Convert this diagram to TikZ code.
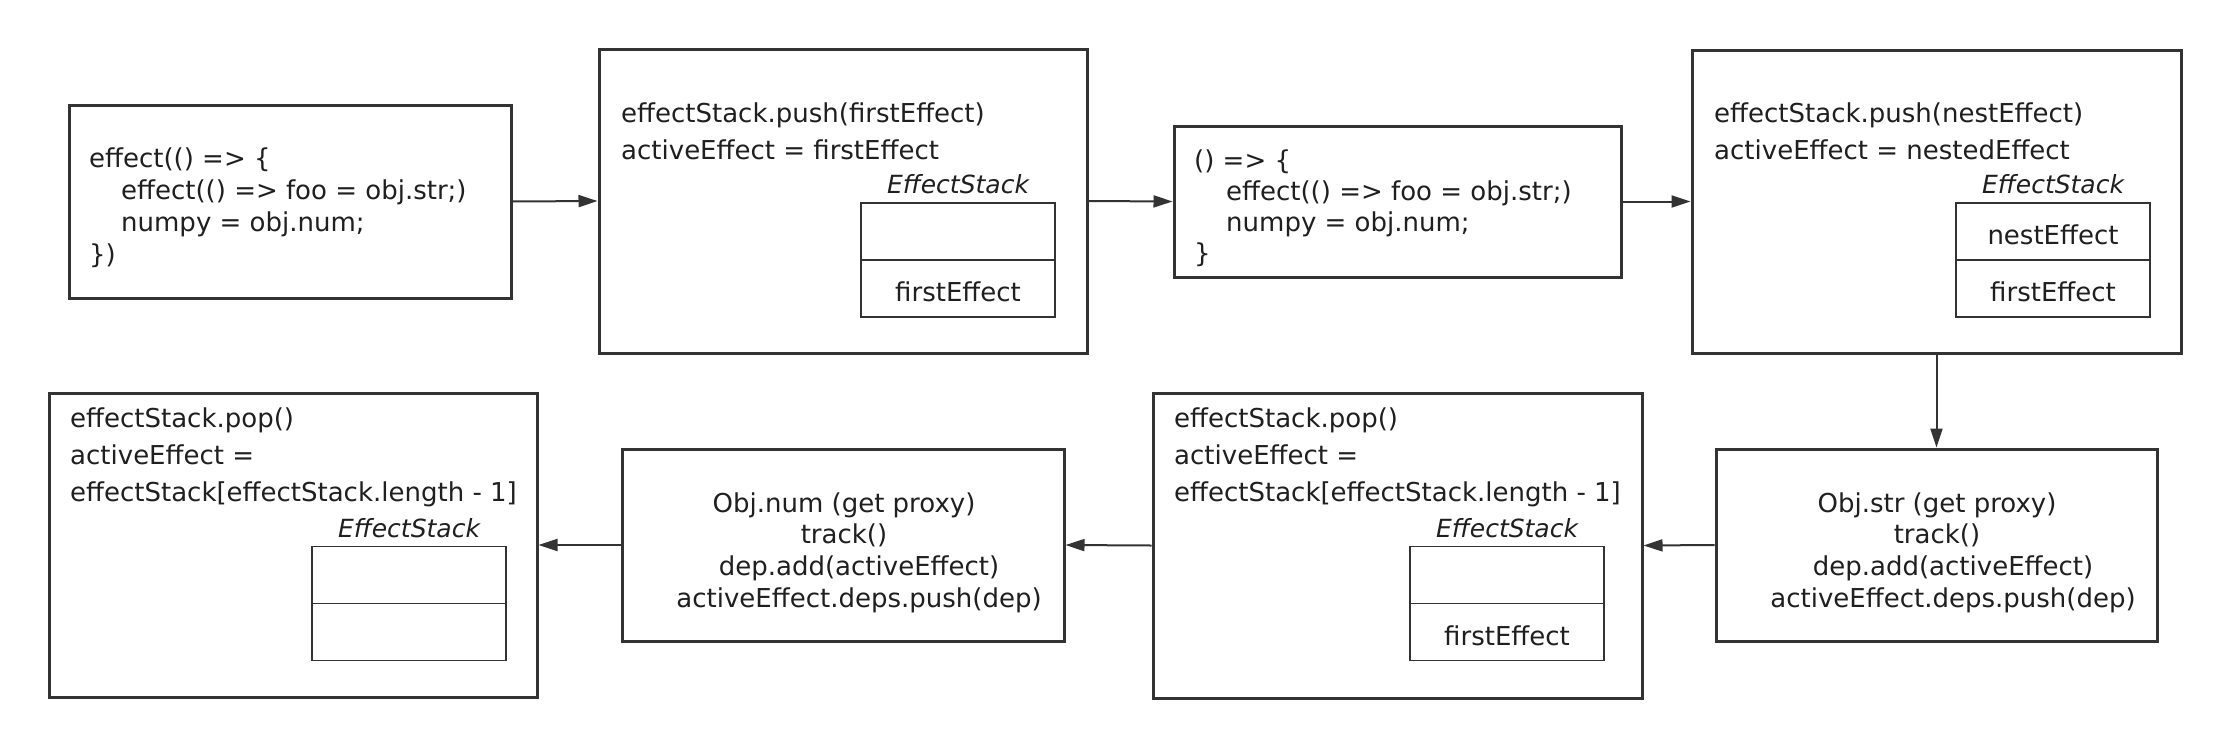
\documentclass[tikz,border=0pt]{standalone}
\usepackage{fontspec}
\setmainfont{DejaVu Sans}
\usetikzlibrary{arrows.meta}
\definecolor{ink}{HTML}{333333}
\begin{document}
\begin{tikzpicture}[x=1pt,y=-1pt,
  box/.style={draw=ink,line width=3pt,fill=white,rectangle,inner sep=0pt},
  cell/.style={draw=ink,line width=1.5pt,rectangle,inner sep=0pt,minimum width=194pt,minimum height=57pt},
  txt/.style={inner sep=0pt,text=black!88,font=\fontsize{26}{32}\selectfont},
  lbl/.style={inner sep=0pt,text=black!88,font=\fontsize{25}{30}\selectfont\itshape},
  conn/.style={draw=ink,line width=2pt,-{Triangle[length=19pt,width=12pt]}}]
\useasboundingbox (0,0) rectangle (2234,747);
% boxes
\node[box,minimum width=442pt,minimum height=193pt] (A) at (290,201.5) {};
\node[box,minimum width=488pt,minimum height=304pt] (B) at (843,201) {};
\node[box,minimum width=447pt,minimum height=151pt] (C) at (1397.5,201.5) {};
\node[box,minimum width=489pt,minimum height=303pt] (D) at (1936.5,201.5) {};
\node[box,minimum width=441pt,minimum height=192pt] (E) at (1936.5,545) {};
\node[box,minimum width=489pt,minimum height=305pt] (F) at (1397.5,545.5) {};
\node[box,minimum width=442pt,minimum height=192pt] (G) at (843,545) {};
\node[box,minimum width=488pt,minimum height=304pt] (H) at (293,545) {};
% connectors
\draw[conn] (A.east) -- (B.west);
\draw[conn] (B.east) -- (C.west);
\draw[conn] (C.east) -- (D.west);
\draw[conn] (D.south) -- (E.north);
\draw[conn] (E.west) -- (F.east);
\draw[conn] (F.west) -- (G.east);
\draw[conn] (G.west) -- (H.east);
% box A text
\node[txt,anchor=base west] (A1) at (89,167) {effect(() => \{};
\node[txt,anchor=base west] (A2) at (121,199) {effect(() => foo = obj.str;)};
\node[txt,anchor=base west] (A3) at (121,231) {numpy = obj.num;};
\node[txt,anchor=base west] (A4) at (89,263) {\})};
% box B
\node[txt,anchor=base west] (B1) at (621,122) {effectStack.push(firstEffect)};
\node[txt,anchor=base west] (B2) at (621,159) {activeEffect = firstEffect};
\node[lbl,anchor=base] (BL) at (958,193) {EffectStack};
\node[cell] (Bs1) at (958,231.5) {};
\node[cell] (Bs2) at (958,288.5) {};
\node[txt,anchor=base] (Bs2t) at (958,301) {firstEffect};
% box C
\node[txt,anchor=base west] (C1) at (1194,169) {() => \{};
\node[txt,anchor=base west] (C2) at (1226,200) {effect(() => foo = obj.str;)};
\node[txt,anchor=base west] (C3) at (1226,231) {numpy = obj.num;};
\node[txt,anchor=base west] (C4) at (1194,262) {\}};
% box D
\node[txt,anchor=base west] (D1) at (1714,122) {effectStack.push(nestEffect)};
\node[txt,anchor=base west] (D2) at (1714,159) {activeEffect = nestedEffect};
\node[lbl,anchor=base] (DL) at (2053,193) {EffectStack};
\node[cell] (Ds1) at (2053,231.5) {};
\node[cell] (Ds2) at (2053,288.5) {};
\node[txt,anchor=base] (Ds1t) at (2053,244) {nestEffect};
\node[txt,anchor=base] (Ds2t) at (2053,301) {firstEffect};
% box E
\node[txt,anchor=base] (E1) at (1937,512) {Obj.str (get proxy)};
\node[txt,anchor=base] (E2) at (1937,543) {track()};
\node[txt,anchor=base] (E3) at (1953,575) {dep.add(activeEffect)};
\node[txt,anchor=base] (E4) at (1953,607) {activeEffect.deps.push(dep)};
% box F
\node[txt,anchor=base west] (F1) at (1174,427) {effectStack.pop()};
\node[txt,anchor=base west] (F2) at (1174,464) {activeEffect =};
\node[txt,anchor=base west] (F3) at (1174,501) {effectStack[effectStack.length - 1]};
\node[lbl,anchor=base] (FL) at (1507,537) {EffectStack};
\node[cell] (Fs1) at (1507,575) {};
\node[cell] (Fs2) at (1507,632) {};
\node[txt,anchor=base] (Fs2t) at (1507,645) {firstEffect};
% box G
\node[txt,anchor=base] (G1) at (844,512) {Obj.num (get proxy)};
\node[txt,anchor=base] (G2) at (844,543) {track()};
\node[txt,anchor=base] (G3) at (859,575) {dep.add(activeEffect)};
\node[txt,anchor=base] (G4) at (859,607) {activeEffect.deps.push(dep)};
% box H
\node[txt,anchor=base west] (H1) at (70,427) {effectStack.pop()};
\node[txt,anchor=base west] (H2) at (70,464) {activeEffect =};
\node[txt,anchor=base west] (H3) at (70,501) {effectStack[effectStack.length - 1]};
\node[lbl,anchor=base] (HL) at (409,537) {EffectStack};
\node[cell] (Hs1) at (409,575) {};
\node[cell] (Hs2) at (409,632) {};
\end{tikzpicture}
\end{document}
